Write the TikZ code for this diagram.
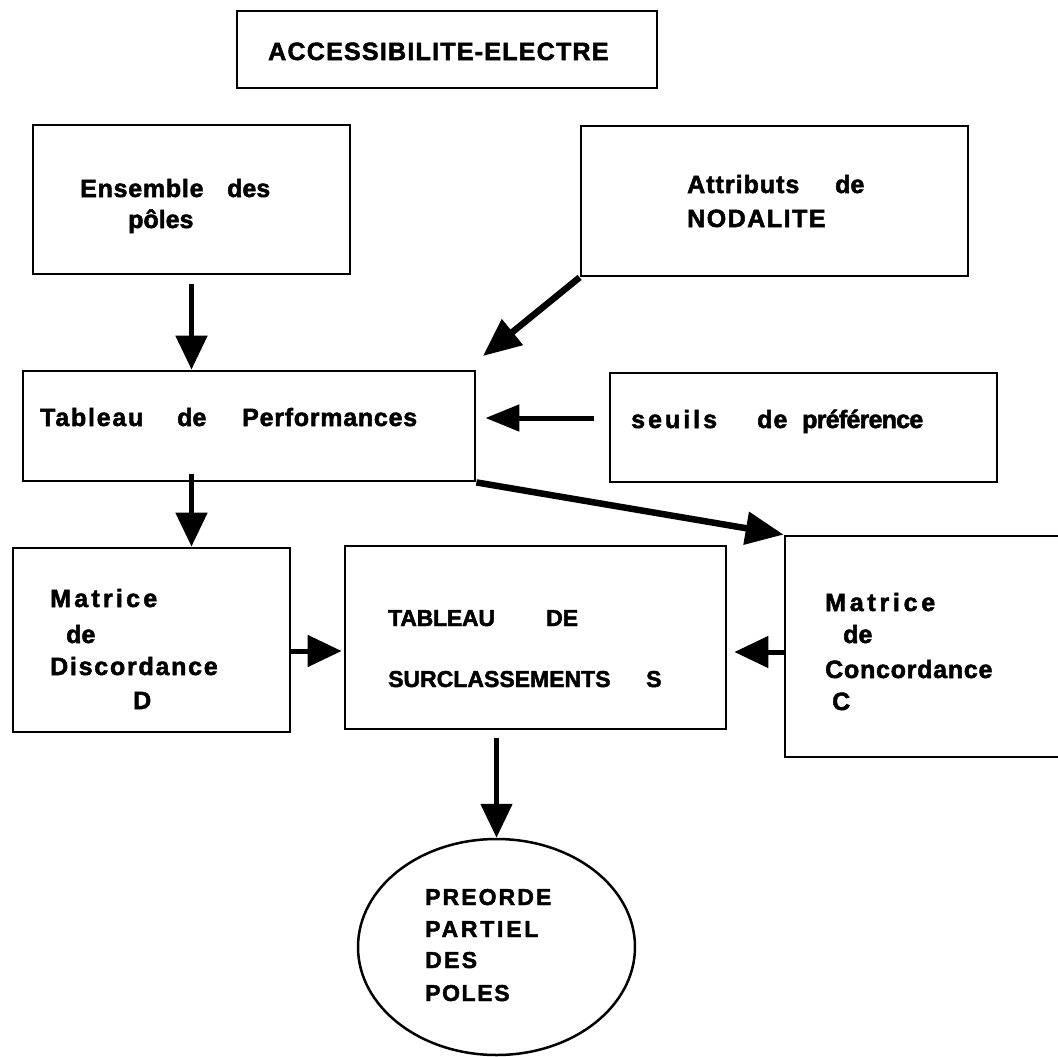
\documentclass[tikz,border=0pt]{standalone}
\usepackage{fontspec}
\setmainfont{Liberation Sans}
\usetikzlibrary{arrows.meta,shapes.geometric}
\newcommand\wls[2]{{\addfontfeature{LetterSpace=#1}#2}}
\begin{document}
\begin{tikzpicture}[x=1pt,y=-1pt,
  box/.style={draw,line width=2.8pt,rectangle,inner sep=0pt},
  txt/.style={anchor=base west,inner sep=0pt,font=\fontsize{25}{25}\selectfont\bfseries\addfontfeature{FakeBold=2}},
  txts/.style={txt,font=\fontsize{23}{23}\selectfont\bfseries\addfontfeature{FakeBold=2}},
  arr/.style={line width=5pt,-{Triangle[length=34pt,width=31pt]}},
  arrd/.style={line width=6.5pt,-{Triangle[length=38pt,width=32pt]}},
  arrs/.style={line width=5pt,-{Triangle[length=34pt,width=26pt]}}
  ]
\useasboundingbox (0,0) rectangle (1058,1057);

% boxes
\node[box,minimum width=420pt,minimum height=77pt] (title) at (447,49.5) {};
\node[box,minimum width=317pt,minimum height=149pt] (ens) at (191.5,199.5) {};
\node[box,minimum width=387pt,minimum height=150pt] (att) at (774.5,201) {};
\node[box,minimum width=452pt,minimum height=110pt] (tab) at (249,426) {};
\node[box,minimum width=387pt,minimum height=109pt] (seu) at (803.5,427.5) {};
\node[box,minimum width=277pt,minimum height=184pt] (dis) at (151.5,640) {};
\node[box,minimum width=381pt,minimum height=183pt] (sb) at (535.5,637.5) {};
\node[box,minimum width=285pt,minimum height=221pt] (con) at (927.5,646.5) {};
\node[draw,ellipse,line width=2.5pt,minimum width=277pt,minimum height=216pt,inner sep=0pt] (pre) at (496.5,947) {};

% texts
\node[txt] (titleT) at (268,60) {\wls{5}{ACCESSIBILITE-ELECTRE}};
\node[txt] (ensT1) at (80,197) {\makebox[147pt][l]{\wls{3}{Ensemble}}des};
\node[txt] (ensT2) at (128,228) {pôles};
\node[txt] (attT1) at (687,193) {\makebox[148pt][l]{\wls{4}{Attributs}}de};
\node[txt] (attT2) at (687,227) {\wls{6}{NODALITE}};
\node[txt] (tabT) at (40,426) {\makebox[137pt][l]{\wls{7}{Tableau}}\makebox[65pt][l]{de}\wls{3}{Performances}};
\node[txt] (seuT) at (631,428) {\makebox[126pt][l]{\wls{12}{seuils}}\makebox[45pt][l]{\wls{4}{de}}\wls{-3}{préférence}};
\node[txt] (disT1) at (50,607) {\wls{13}{Matrice}};
\node[txt] (disT2) at (66,643) {de};
\node[txt] (disT3) at (50,675) {\wls{7}{Discordance}};
\node[txt] (disT4) at (133,709) {D};
\node[txts] (sbT1) at (388,626) {\makebox[158pt][l]{\wls{-1}{TABLEAU}}DE};
\node[txts] (sbT2) at (388,687) {\makebox[258pt][l]{\wls{0}{SURCLASSEMENTS}}S};
\node[txt] (conT1) at (825,611) {\wls{15}{Matrice}};
\node[txt] (conT2) at (843,643) {de};
\node[txt] (conT3) at (825,678) {\wls{3}{Concordance}};
\node[txt] (conT4) at (832,710) {C};
\node[txts] (preT1) at (425,905) {\wls{9}{PREORDE}};
\node[txts] (preT2) at (425,937) {\wls{12}{PARTIEL}};
\node[txts] (preT3) at (425,968) {\wls{10}{DES}};
\node[txts] (preT4) at (425,1001) {\wls{7}{POLES}};

% connectors
\coordinate (attTip) at (483,356);
\coordinate (seuA) at ([yshift=9.5pt]seu.west);
\coordinate (disA) at ([yshift=-11pt]dis.east);
\coordinate (conA) at ([yshift=-5.5pt]con.west);

\draw[arr,shorten <=9pt] (ens.south) -- (ens.south |- tab.north);
\draw[arr,shorten <=-8pt] (tab.south -| ens.south) -- (dis.north -| ens.south);
\draw[arrd] (att.south west) -- (attTip);
\draw[arrs,shorten <=15pt,shorten >=9pt] (seuA) -- (seuA -| tab.east);
\draw[arrd] (tab.south east) -- (con.north west);
\draw[arr,shorten >=2pt] (disA) -- (disA -| sb.west);
\draw[arr,shorten >=7pt] (conA) -- (conA -| sb.east);
\draw[arr,shorten <=8pt] (pre.north |- sb.south) -- (pre.north);
\end{tikzpicture}
\end{document}
